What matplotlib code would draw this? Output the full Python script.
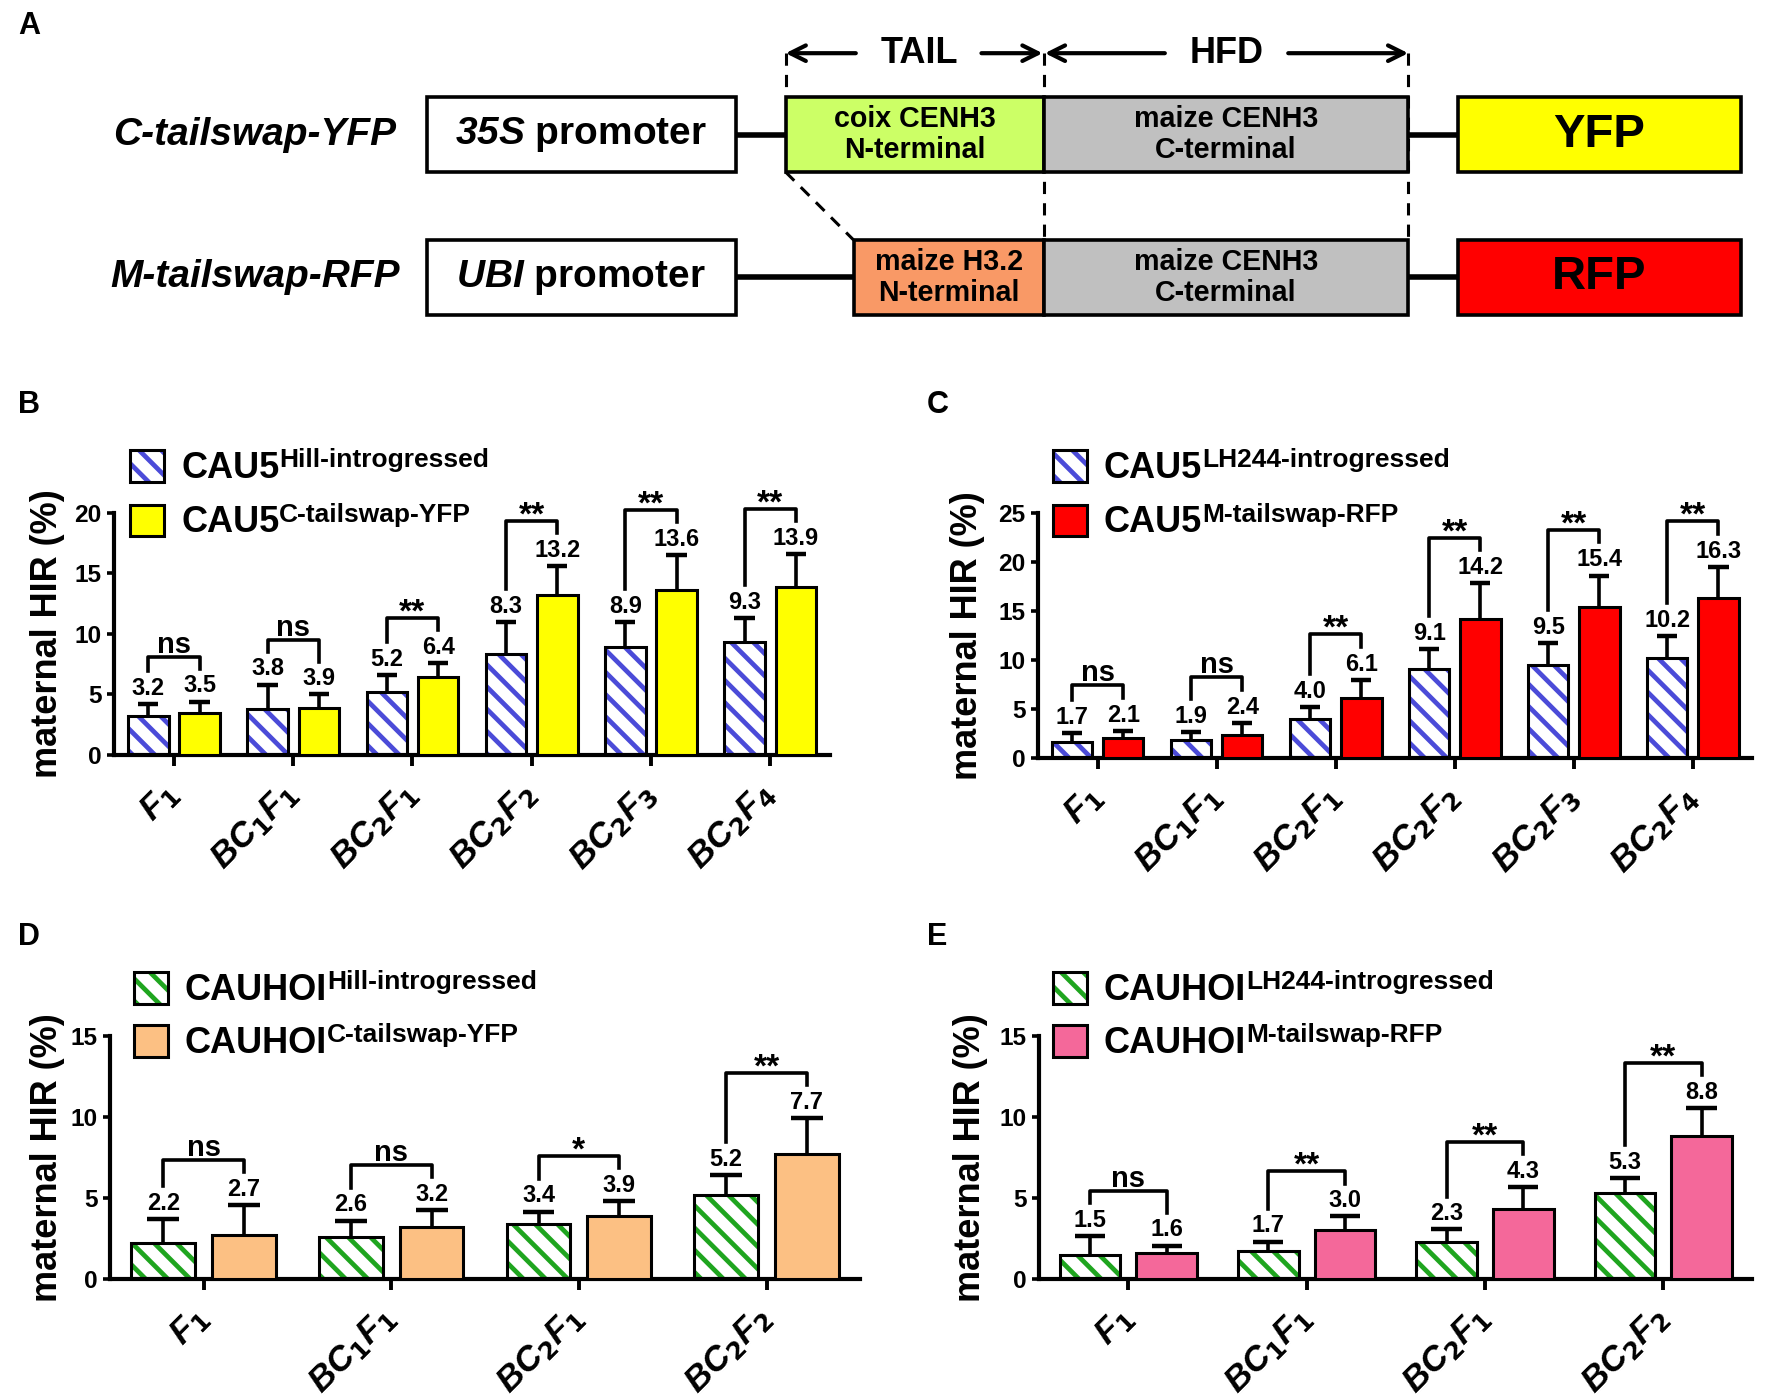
import matplotlib
matplotlib.use('Agg')
import matplotlib.pyplot as plt
from matplotlib.patches import Rectangle
from matplotlib.text import Annotation
import matplotlib.transforms as mtrans
import numpy as np

plt.rcParams['font.family'] = ['Liberation Sans', 'DejaVu Sans']
plt.rcParams['font.weight'] = 'bold'
plt.rcParams['mathtext.fontset'] = 'custom'
plt.rcParams['mathtext.it'] = 'Liberation Sans:italic'
plt.rcParams['mathtext.bf'] = 'Liberation Sans:bold'
plt.rcParams['mathtext.bfit'] = 'Liberation Sans:bold:italic'
plt.rcParams['hatch.linewidth'] = 1.7

# ---- data ----
gens6 = ['F1', 'BC1F1', 'BC2F1', 'BC2F2', 'BC2F3', 'BC2F4']
gens4 = ['F1', 'BC1F1', 'BC2F1', 'BC2F2']

b_hill = [3.2, 3.8, 5.2, 8.3, 8.9, 9.3]
b_hill_err = [1.0, 2.0, 1.4, 2.7, 2.1, 2.0]
b_ctail = [3.5, 3.9, 6.4, 13.2, 13.6, 13.9]
b_ctail_err = [0.9, 1.1, 1.2, 2.4, 2.9, 2.7]
b_sig = ['ns', 'ns', '**', '**', '**', '**']

c_lh = [1.7, 1.9, 4.0, 9.1, 9.5, 10.2]
c_lh_err = [0.9, 0.8, 1.2, 2.0, 2.2, 2.2]
c_mtail = [2.1, 2.4, 6.1, 14.2, 15.4, 16.3]
c_mtail_err = [0.7, 1.2, 1.9, 3.6, 3.2, 3.2]
c_sig = ['ns', 'ns', '**', '**', '**', '**']

d_hill = [2.2, 2.6, 3.4, 5.2]
d_hill_err = [1.5, 1.0, 0.75, 1.2]
d_ctail = [2.7, 3.2, 3.9, 7.7]
d_ctail_err = [1.85, 1.05, 0.9, 2.2]
d_sig = ['ns', 'ns', '*', '**']

e_lh = [1.5, 1.7, 2.3, 5.3]
e_lh_err = [1.15, 0.6, 0.75, 0.9]
e_mtail = [1.6, 3.0, 4.3, 8.8]
e_mtail_err = [0.45, 0.85, 1.35, 1.75]
e_sig = ['ns', '**', '**', '**']

W, H = 1568, 1237  # layout grid of the reference


def fx(x):
    return x / W


def fy(y):
    return 1 - y / H


def gen_label(s):
    out = ''
    for ch in s:
        if ch.isdigit():
            out += r'_{\mathit{%s}}' % ch
        else:
            out += r'\mathbfit{%s}' % ch
    return '$' + out + '$'


HATCH = '\\' * 3
fig = plt.figure(figsize=(8.875, 7), dpi=200)

# ---------------- panel A (schematic) ----------------
ax_a = fig.add_axes([0, fy(300), 1, 300 / H])
ax_a.set_xlim(0, W)
ax_a.set_ylim(300, 0)
ax_a.axis('off')


def box(x0, y0, x1, y1, fc):
    ax_a.add_patch(Rectangle((x0, y0), x1 - x0, y1 - y0, fc=fc, ec='black', lw=1.3, zorder=3))


for (x0, x1, y) in [(650, 694, 119), (1244, 1288, 119), (650, 754, 245), (1244, 1288, 245)]:
    ax_a.plot([x0, x1], [y, y], color='black', lw=2.0, zorder=2)
for (x0, y0, x1, y1) in [(694, 47, 694, 86), (922, 47, 922, 212), (1244, 47, 1244, 212), (694, 152, 754, 212)]:
    ax_a.plot([x0, x1], [y0, y1], color='black', lw=1.1, ls=(0, (4, 3)), zorder=1)

box(377, 86, 650, 152, 'white')
box(377, 212, 650, 278, 'white')
box(694, 86, 922, 152, '#CCFF66')
box(922, 86, 1244, 152, '#C0C0C0')
box(1288, 86, 1538, 152, '#FFFF00')
box(754, 212, 922, 278, '#F99966')
box(922, 212, 1244, 278, '#C0C0C0')
box(1288, 212, 1538, 278, '#FF0000')

arr = dict(arrowstyle='->', lw=1.5, color='black', mutation_scale=14, shrinkA=0, shrinkB=0)
for (xs, xe) in [(756, 694), (867, 921), (1029, 923), (1138, 1244)]:
    ax_a.annotate('', xy=(xe, 47), xytext=(xs, 47), arrowprops=arr)
ax_a.text(812, 47, 'TAIL', ha='center', va='center', fontsize=13)
ax_a.text(1084, 47, 'HFD', ha='center', va='center', fontsize=13)

ax_a.text(350, 119, 'C-tailswap-YFP', ha='right', va='center', fontsize=14, style='italic')
ax_a.text(353, 245, 'M-tailswap-RFP', ha='right', va='center', fontsize=14, style='italic')
ax_a.text(513, 119, r'$\mathbfit{35S}$ promoter', ha='center', va='center', fontsize=14, zorder=4)
ax_a.text(513, 245, r'$\mathbfit{UBI}$ promoter', ha='center', va='center', fontsize=14, zorder=4)
for (x, y, s) in [(808, 119, 'coix CENH3\nN-terminal'), (1083, 119, 'maize CENH3\nC-terminal'),
                  (838, 245, 'maize H3.2\nN-terminal'), (1083, 245, 'maize CENH3\nC-terminal')]:
    ax_a.text(x, y, s, ha='center', va='center', fontsize=10.3, linespacing=1.15, zorder=4)
ax_a.text(1413, 119, 'YFP', ha='center', va='center', fontsize=17, zorder=4)
ax_a.text(1413, 245, 'RFP', ha='center', va='center', fontsize=17, zorder=4)
fig.text(fx(16), fy(23), 'A', fontsize=11, va='center')


# ---------------- bar panels ----------------
def panel(letter, letter_pos, rect, ytop, ystep, cats, v1, e1, v2, e2, sig,
          hcol, fcol, leg_x, leg_y, labels, ylab_x):
    x0, y0, x1, y1 = rect
    ax = fig.add_axes([fx(x0), fy(y1), (x1 - x0) / W, (y1 - y0) / H])
    n = len(cats)
    x = np.arange(n)
    off, bw = 0.215, 0.34
    ax.bar(x - off, v1, bw, color='white', edgecolor=hcol, hatch=HATCH, linewidth=0, zorder=2)
    ax.bar(x - off, v1, bw, fill=False, edgecolor='black', linewidth=1.1, zorder=3)
    ax.bar(x + off, v2, bw, color=fcol, edgecolor='black', linewidth=1.1, zorder=3)
    lab = 0.135 * ytop
    rise = 0.05 * ytop
    for xs, v, e in [(x - off, v1, e1), (x + off, v2, e2)]:
        v = np.asarray(v)
        top = v + np.asarray(e)
        ax.vlines(xs, v, top, color='black', lw=1.3, zorder=4)
        ax.hlines(top, xs - bw / 4, xs + bw / 4, color='black', lw=1.6, zorder=4)
        for xi, vi, ti in zip(xs, v, top):
            ax.annotate('%.1f' % vi, (xi, ti), xytext=(0, 1.5), textcoords='offset points',
                        ha='center', va='bottom', fontsize=8.5, annotation_clip=False)
    tops1 = np.asarray(v1) + np.asarray(e1) + lab
    tops2 = np.asarray(v2) + np.asarray(e2) + lab
    for i in range(n):
        yb = max(tops1[i], tops2[i]) + rise
        ax.plot([x[i] - off, x[i] - off, x[i] + off, x[i] + off],
                [tops1[i], yb, yb, tops2[i]], color='black', lw=1.3, clip_on=False)
        dy = 1.5 if sig[i] == 'ns' else -1.2
        fs = 10.5 if sig[i] == 'ns' else 12
        ax.annotate(sig[i], (x[i], yb), xytext=(0, dy), textcoords='offset points',
                    ha='center', va='baseline', fontsize=fs, annotation_clip=False)
    ax.set_xlim(-0.5, n - 0.5)
    ax.set_ylim(0, ytop)
    yt = np.arange(0, ytop + 0.1, ystep)
    ax.set_yticks(yt)
    ax.set_yticklabels(['%d' % t for t in yt], fontsize=8.8)
    ax.set_xticks(x)
    shift = mtrans.ScaledTranslation(3 / 72, 0, fig.dpi_scale_trans)
    ax.set_xticklabels([gen_label(c) for c in cats], rotation=45, ha='right', va='center',
                       rotation_mode='anchor', fontsize=12.5)
    for lbl in ax.get_xticklabels():
        lbl.set_transform(lbl.get_transform() + shift)
    for s in ['top', 'right']:
        ax.spines[s].set_visible(False)
    for s in ['left', 'bottom']:
        ax.spines[s].set_linewidth(1.5)
    ax.tick_params(axis='y', length=2.5, width=1.3, pad=2)
    ax.tick_params(axis='x', length=4, width=1.4, pad=8)
    fig.text(fx(ylab_x), fy((y0 + y1) / 2), 'maternal HIR (%)', rotation=90, ha='center',
             va='center', fontsize=13)
    fig.text(fx(letter_pos[0]), fy(letter_pos[1]), letter, fontsize=11, va='center')
    # legend
    for k, (main, sup) in enumerate(labels):
        yc = leg_y[k]
        bx = fx(leg_x)
        by = fy(yc + 14)
        bwid = 30 / W
        bhei = 28 / H
        if k == 0:
            fig.add_artist(Rectangle((bx, by), bwid, bhei, transform=fig.transFigure,
                                     fc='white', ec=hcol, hatch=HATCH, lw=0))
            fig.add_artist(Rectangle((bx, by), bwid, bhei, transform=fig.transFigure,
                                     fill=False, ec='black', lw=1.1))
        else:
            fig.add_artist(Rectangle((bx, by), bwid, bhei, transform=fig.transFigure,
                                     fc=fcol, ec='black', lw=1.1))
        t = fig.text(fx(leg_x + 45), fy(yc + 2), main, ha='left', va='center', fontsize=13)
        fig.add_artist(Annotation(sup, xy=(1.0, 1.08), xycoords=t, ha='left', va='top',
                                  fontsize=9.5))
    return ax


panel('B', (16, 358), (101, 453, 733, 667), 20, 5, gens6, b_hill, b_hill_err, b_ctail,
      b_ctail_err, b_sig, '#4B4BD8', '#FFFF00', 115, [412, 460],
      [('CAU5', 'Hill-introgressed'), ('CAU5', 'C-tailswap-YFP')], 42)
panel('C', (819, 358), (917, 453, 1548, 670), 25, 5, gens6, c_lh, c_lh_err, c_mtail,
      c_mtail_err, c_sig, '#4B4BD8', '#FF0000', 930, [412, 460],
      [('CAU5', 'LH244-introgressed'), ('CAU5', 'M-tailswap-RFP')], 855)
panel('D', (16, 828), (97, 915, 760, 1130), 15, 5, gens4, d_hill, d_hill_err, d_ctail,
      d_ctail_err, d_sig, '#1FA51F', '#FCC083', 118, [873, 920],
      [('CAUHOI', 'Hill-introgressed'), ('CAUHOI', 'C-tailswap-YFP')], 42)
panel('E', (819, 828), (918, 915, 1548, 1130), 15, 5, gens4, e_lh, e_lh_err, e_mtail,
      e_mtail_err, e_sig, '#1FA51F', '#F4689A', 930, [873, 920],
      [('CAUHOI', 'LH244-introgressed'), ('CAUHOI', 'M-tailswap-RFP')], 857)

fig.savefig('out.png', dpi=200, facecolor='white')
